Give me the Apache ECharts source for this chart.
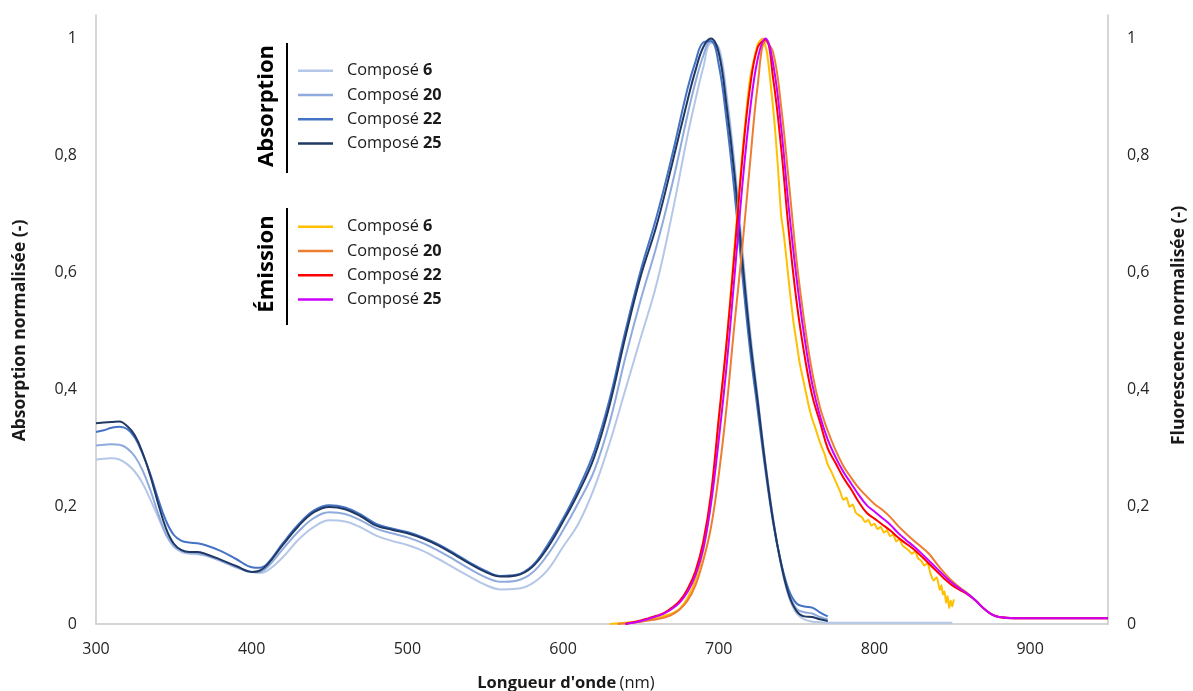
<!DOCTYPE html>
<html><head><meta charset="utf-8">
<script src="https://cdn.jsdelivr.net/npm/echarts@6/dist/echarts.min.js"></script>
<style>html,body{margin:0;padding:0;background:#fff}#c{width:1193px;height:691px}</style>
</head><body><div id="c"></div>
<script>
// ---------- DATA ----------
const xTicks = [300, 400, 500, 600, 700, 800, 900];
const yTicks = [0, 0.2, 0.4, 0.6, 0.8, 1];

const absWl = [300,305,310,315,320,325,330,335,340,345,350,355,360,365,370,
  380,390,400,405,410,
  420,430,440,450,460,470,480,490,500,510,520,530,540,550,560,570,580,590,600,610,620,630,640,650,660,670,680,
  685,690,695,700,705,710,715,720,725,730,735,740,745,750,755,760,765,770,
  780,800,820,850];
const abs6 = [.281,.282,.283,.281,.273,.260,.240,.212,.182,.152,.132,.123,.120,.119,.117,
  .108,.097,.089,.087,.091,
  .114,.144,.166,.177,.175,.165,.151,.142,.135,.125,.111,.096,.081,.067,.059,.060,.069,.092,.132,.172,.232,.310,.400,.490,.580,.700,.835,
  .895,.950,.992,.985,.905,.790,.645,.505,.388,.275,.178,.100,.046,.018,.008,.004,.003,.002,
  .002,.002,.002,.002];
const abs20 = [.305,.306,.307,.306,.300,.286,.262,.228,.188,.153,.133,.125,.122,.121,.118,
  .108,.097,.089,.089,.097,
  .128,.158,.181,.191,.188,.177,.163,.155,.148,.138,.125,.110,.094,.080,.072,.074,.087,.118,.160,.208,.262,.345,.455,.555,.645,.750,.870,
  .925,.970,.997,.980,.895,.780,.632,.493,.383,.272,.178,.103,.052,.026,.020,.018,.012,.008,
  null,null,null,null];
const abs22 = [.328,.331,.335,.337,.333,.318,.290,.255,.213,.176,.152,.142,.139,.138,.135,
  .125,.111,.097,.096,.103,
  .138,.170,.194,.203,.199,.187,.171,.163,.157,.148,.136,.121,.105,.091,.082,.084,.099,.135,.180,.232,.295,.385,.500,.605,.695,.800,.915,
  .960,.993,.995,.955,.860,.740,.600,.470,.365,.262,.172,.105,.058,.035,.030,.028,.020,.013,
  null,null,null,null];
const abs25 = [.343,.344,.345,.346,.338,.322,.292,.252,.205,.163,.137,.126,.123,.123,.120,
  .110,.099,.089,.091,.101,
  .135,.167,.191,.200,.196,.184,.168,.161,.155,.146,.134,.119,.103,.089,.081,.083,.097,.130,.175,.225,.285,.375,.490,.595,.680,.785,.895,
  .945,.985,1.0,.975,.885,.770,.625,.490,.380,.270,.175,.103,.050,.022,.013,.012,.008,.005,
  null,null,null,null];

const emWl = [630,635,640,645,650,655,660,665,670,675,680,685,690,695,700,705,710,715,720,725,
  730,735,740,745,750,755,760,765,770,775,780,785,790,795,800,805,810,815,820,825,
  830,835,840,845,850,855,860,865,870,875,880,890,900,920,950];
const em20 = [null,0,.001,.002,.004,.006,.008,.011,.016,.025,.040,.066,.108,.165,.255,.370,.510,.640,.785,.920,
  .995,.975,.885,.755,.620,.515,.430,.370,.330,.297,.270,.250,.232,.218,.205,.195,.183,.168,.155,.143,
  .132,.120,.103,.087,.073,.062,.052,.040,.027,.017,.012,.010,.010,.010,.010];
const em22 = [null,null,0,.003,.006,.010,.014,.019,.028,.040,.060,.090,.140,.222,.352,.480,.630,.790,.915,.985,
  .998,.930,.815,.670,.550,.460,.390,.345,.300,.275,.250,.230,.208,.190,.180,.170,.160,.148,.138,.128,
  .116,.103,.090,.077,.066,.058,.050,.040,.027,.017,.012,.010,.010,.010,.010];
const em25 = [null,null,0,.002,.005,.009,.013,.018,.026,.037,.055,.083,.128,.205,.315,.440,.590,.745,.875,.965,
  1.0,.955,.850,.710,.590,.490,.410,.355,.315,.285,.260,.240,.220,.203,.192,.181,.170,.156,.144,.133,
  .121,.108,.095,.082,.070,.060,.051,.040,.027,.017,.012,.010,.010,.010,.010];

const em6Wl = [630,640,650,660,665,670,675,680,685,690,695,700,705,710,715,720,725,728,731,734,736,738,740,742,744,746,748,750,
  752,754,756,758,760,762,764,766,768,770,772,774,776,778,780,782,784,786,788,790,792,794,796,798,800,
  802,804,806,808,810,812,814,816,818,820,822,824,826,828,830,832,834,836,838,840,842,843,844,845,846,847,848,849,850,851];
const em6 = [0,.002,.005,.010,.014,.018,.026,.045,.075,.125,.210,.340,.480,.640,.800,.930,.990,1.0,.975,.905,.850,.780,.700,.660,.610,.560,.515,.480,
  .445,.420,.395,.370,.350,.335,.318,.303,.290,.272,.262,.250,.238,.226,.212,.216,.200,.204,.190,.186,.182,.174,.178,.168,.171,
  .162,.166,.156,.160,.150,.153,.141,.145,.134,.130,.126,.120,.124,.112,.108,.100,.104,.086,.074,.080,.058,.066,.050,.056,.036,.048,.027,.040,.030,.042];

const compoundNums = {abs6:'6',abs20:'20',abs22:'22',abs25:'25',em6:'6',em20:'20',em22:'22',em25:'25'};
const colors = {abs6:'#B4C7E7',abs20:'#8FAADC',abs22:'#4472C4',abs25:'#1F3864',
                em6:'#FFC000',em20:'#ED7D31',em22:'#FF0000',em25:'#CC00FF'};

// ---------- CHART ----------
const FONT = '"Open Sans", "Noto Sans", sans-serif';
const pairs = (xs, ys) => xs.map((x, i) => [x, ys[i] == null ? '-' : ys[i]]);
function mk(name, xs, ys, yIdx, smooth) {
  return {name, type:'line', yAxisIndex:yIdx, data:pairs(xs, ys), showSymbol:false, symbol:'none',
    smooth: smooth, lineStyle:{width:2, color:colors[name]}, itemStyle:{color:colors[name]}, z:2};
}
const yFmt = v => (v > 1.001 ? '' : String(+v.toFixed(1)).replace('.', ','));
const legendBase = {
  orient:'vertical', left:298, padding:0, icon:'rect', itemWidth:35, itemHeight:2.5, itemGap:8.3, selectedMode:false,
  formatter: n => '{n|Composé }{b|' + compoundNums[n] + '}',
  textStyle:{padding:[0,0,0,9], lineHeight:16, rich:{
    n:{fontFamily:FONT, fontSize:16.3, lineHeight:16, color:'#1a1a1a'},
    b:{fontFamily:FONT, fontSize:16.3, lineHeight:16, fontWeight:'bold', color:'#1a1a1a'}}}
};
const yAxisBase = {
  type:'value', min:0, max:1.04, interval:0.2,
  axisLine:{show:true, lineStyle:{color:'#C8C8C8', width:1.5}},
  axisTick:{show:false}, splitLine:{show:false},
  axisLabel:{formatter:yFmt, fontFamily:FONT, fontSize:16, color:'#262626', margin:19},
  nameLocation:'middle', nameRotate:90
};
const titleStyle = {fontFamily:FONT, fontSize:17.5, fontWeight:'bold', color:'#1a1a1a'};
const option = {
  animation:false,
  grid:{left:96, right:85, top:15, bottom:67, containLabel:false, outerBoundsMode:'none'},
  xAxis:{type:'value', min:300, max:950, interval:100,
    axisLine:{show:true, onZero:false, lineStyle:{color:'#C8C8C8', width:1.5}},
    axisTick:{show:false}, splitLine:{show:false},
    axisLabel:{formatter:v => (xTicks.includes(v) ? String(v) : ''), margin:17, fontFamily:FONT, fontSize:16, color:'#262626'},
    name:'{b|Longueur d\'onde} {n|(nm)}', nameLocation:'middle', nameGap:51,
    nameTextStyle:{padding:[0,72,0,0], rich:{b:{fontFamily:FONT, fontSize:16.5, fontWeight:'bold', color:'#1a1a1a'},
                          n:{fontFamily:FONT, fontSize:16.5, color:'#1a1a1a'}}}},
  yAxis:[
    Object.assign({}, yAxisBase, {position:'left', name:'Absorption normalisée (-)', nameGap:67,
      nameTextStyle:Object.assign({padding:[0,22,0,0]}, titleStyle)}),
    Object.assign({}, yAxisBase, {position:'right', name:'Fluorescence normalisée (-)', nameGap:62,
      nameTextStyle:Object.assign({padding:[0,12,0,0]}, titleStyle)})
  ],
  legend:[
    Object.assign({}, legendBase, {top:62.7, data:['abs6','abs20','abs22','abs25']}),
    Object.assign({}, legendBase, {top:218.7, data:['em6','em20','em22','em25']})
  ],
  graphic:[
    {type:'line', shape:{x1:287, y1:43, x2:287, y2:173}, style:{stroke:'#000', lineWidth:2}},
    {type:'line', shape:{x1:287, y1:208, x2:287, y2:325}, style:{stroke:'#000', lineWidth:2}},
    {type:'text', x:267, y:106, rotation:Math.PI/2,
      style:{text:'Absorption', fontFamily:FONT, fontSize:22, fontWeight:'bold', fill:'#000', align:'center', verticalAlign:'middle'}},
    {type:'text', x:267, y:264, rotation:Math.PI/2,
      style:{text:'Émission', fontFamily:FONT, fontSize:22, fontWeight:'bold', fill:'#000', align:'center', verticalAlign:'middle'}}
  ],
  series:[
    mk('abs6', absWl, abs6, 0, 0.4),
    mk('abs20', absWl, abs20, 0, 0.4),
    mk('abs22', absWl, abs22, 0, 0.4),
    mk('abs25', absWl, abs25, 0, 0.4),
    mk('em6', em6Wl, em6, 1, 0.2),
    mk('em20', emWl, em20, 1, 0.4),
    mk('em22', emWl, em22, 1, 0.4),
    mk('em25', emWl, em25, 1, 0.4)
  ]
};
const chart = echarts.init(document.getElementById('c'), null, {renderer:'canvas'});
chart.setOption(option);
</script></body></html>
